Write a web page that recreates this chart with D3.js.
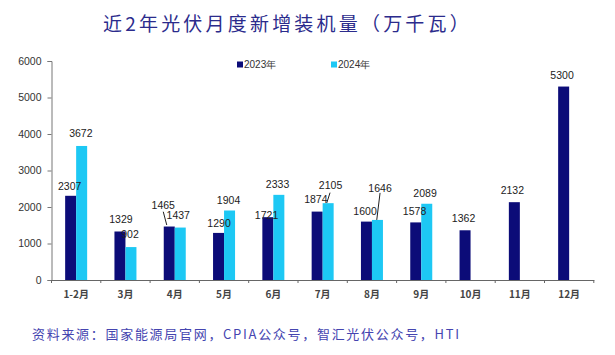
<!DOCTYPE html>
<html>
<head>
<meta charset="utf-8">
<script src="https://cdn.jsdelivr.net/npm/d3@7"></script>
<style>
  html, body { margin: 0; padding: 0; background: #fff; }
  svg { display: block; }
</style>
</head>
<body>
<svg id="chart" width="615" height="355"></svg>
<script>
// ---------- data ----------
const months = ["1-2月","3月","4月","5月","6月","7月","8月","9月","10月","11月","12月"];
const seriesNames = ["2023年","2024年"];
const values2023 = [2307,1329,1465,1290,1721,1874,1600,1578,1362,2132,5300];
const values2024 = [3672,902,1437,1904,2333,2105,1646,2089,null,null,null];
const yTicks = [0,1000,2000,3000,4000,5000,6000];
const titleText = "近2年光伏月度新增装机量（万千瓦）";
const sourceText = "资料来源：国家能源局官网，CPIA公众号，智汇光伏公众号，HTI";

// ---------- label layout nudges (px: dx from bar centre, baseline offset from bar top) ----------
const nudge2023 = [[-1,-6],[1,-8],[-6,-18],[0.5,-6],[-1.3,2],[-1.3,-8.3],[-1.4,-6.6],[-1.2,-7.4],[-1.5,-8.3],[-2,-8.2],[-1.6,-7.5]];
const nudge2024 = [[-0.8,-9],[-0.9,-8.8],[-2,-8.5],[-1,-6.5],[-1.3,-6.8],[2.4,-14.2],[2.6,-28],[-1.7,-7.1]];
// leader lines: [series index, month index, x1, y1, x2, y2] offsets relative to bar centre/top
const leaders = [[0,2,-6,-14.8,-2.5,-1.5],[1,5,1.9,-10.5,-1.4,-0.2],[1,6,2.6,-27,-0.7,0]];

// ---------- setup ----------
const colors = ["#0c0c78", "#1dc8f4"];
const svg = d3.select("#chart");
const plotLeft = 51.5, plotRight = 593.8, plotTop = 61, plotBottom = 280;

const x = d3.scaleBand().domain(months).range([plotLeft, plotRight]).paddingInner(0).paddingOuter(0);
const barW = 11;
const xs = d3.scaleBand().domain(seriesNames)
  .range([x.bandwidth()/2 - barW, x.bandwidth()/2 + barW]).padding(0);
const y = d3.scaleLinear().domain([0, 6000]).range([plotBottom, plotTop]);

const series = [values2023, values2024];
const nudges = [nudge2023, nudge2024];

// title
svg.append("text")
  .attr("x", 103).attr("y", 31)
  .attr("font-family", "'Noto Sans CJK SC', sans-serif")
  .attr("font-size", 19).attr("font-weight", 400)
  .attr("letter-spacing", 3.2)
  .attr("fill", "#2b2b8c")
  .text(titleText);

// y axis
const yAxis = svg.append("g")
  .attr("transform", `translate(${plotLeft},0)`)
  .call(d3.axisLeft(y).tickValues(yTicks).tickSize(4).tickPadding(6).tickFormat(d3.format("d")));
yAxis.select(".domain").attr("stroke", "#777");
yAxis.selectAll(".tick line").attr("stroke", "#777");
yAxis.selectAll("text")
  .attr("font-family", "'Liberation Sans', Arial, sans-serif")
  .attr("font-size", 10.5).attr("fill", "#333");

// bars
series.forEach((vals, si) => {
  svg.append("g").selectAll("rect")
    .data(months.map((m, i) => ({m, v: vals[i]})).filter(d => d.v != null))
    .join("rect")
    .attr("x", d => x(d.m) + xs(seriesNames[si]))
    .attr("width", xs.bandwidth())
    .attr("y", d => y(d.v))
    .attr("height", d => y(0) - y(d.v))
    .attr("fill", colors[si]);
});

// x axis
const xAxis = svg.append("g")
  .attr("transform", `translate(0,${plotBottom})`)
  .call(d3.axisBottom(x).tickSize(0).tickPadding(11));
xAxis.select(".domain").attr("stroke", "#666");
xAxis.selectAll("text")
  .attr("font-family", "'Noto Sans CJK SC', sans-serif")
  .attr("font-size", 10).attr("font-weight", 700).attr("fill", "#444");
const bounds = months.map(m => x(m)).concat([x.range()[1]]);
svg.append("g").selectAll("line")
  .data(bounds).join("line")
  .attr("x1", d => d).attr("x2", d => d)
  .attr("y1", plotBottom).attr("y2", plotBottom + 3)
  .attr("stroke", "#666");

// leader lines
svg.append("g").selectAll("line")
  .data(leaders).join("line")
  .each(function(l) {
    const [si, mi, x1, y1, x2, y2] = l;
    const cx = x(months[mi]) + xs(seriesNames[si]) + xs.bandwidth()/2;
    const ty = y(series[si][mi]);
    d3.select(this)
      .attr("x1", cx + x1).attr("y1", ty + y1)
      .attr("x2", cx + x2).attr("y2", ty + y2);
  })
  .attr("stroke", "#222").attr("stroke-width", 1);

// value labels
series.forEach((vals, si) => {
  svg.append("g").selectAll("text")
    .data(months.map((m, i) => ({m, i, v: vals[i]})).filter(d => d.v != null))
    .join("text")
    .attr("x", d => x(d.m) + xs(seriesNames[si]) + xs.bandwidth()/2 + nudges[si][d.i][0])
    .attr("y", d => y(d.v) + nudges[si][d.i][1])
    .attr("text-anchor", "middle")
    .attr("font-family", "'Liberation Sans', Arial, sans-serif")
    .attr("font-size", 10.5).attr("fill", "#222")
    .text(d => d.v);
});

// legend
const legendX = [237, 331];
const lg = svg.append("g");
seriesNames.forEach((name, si) => {
  lg.append("rect").attr("x", legendX[si]).attr("y", 61.5).attr("width", 6).attr("height", 6).attr("fill", colors[si]);
  lg.append("text").attr("x", legendX[si] + 7).attr("y", 68)
    .attr("font-family", "'Liberation Sans', Arial, sans-serif")
    .attr("font-size", 10).attr("fill", "#333")
    .text(name);
});

// source
svg.append("text")
  .attr("x", 32).attr("y", 339)
  .attr("font-family", "'Noto Sans CJK SC', sans-serif")
  .attr("font-size", 13).attr("font-weight", 400)
  .attr("letter-spacing", 1.7)
  .attr("fill", "#4545b0")
  .text(sourceText);
</script>
</body>
</html>
